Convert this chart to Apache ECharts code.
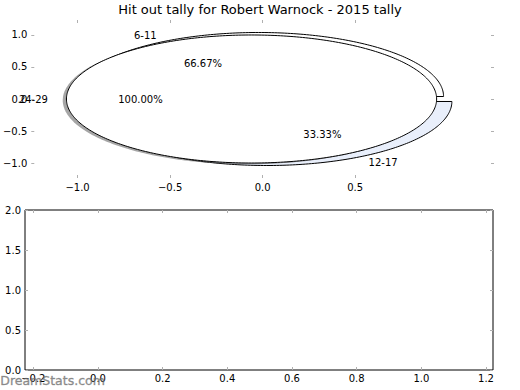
<!DOCTYPE html>
<html><head><meta charset="utf-8">
<script src="https://cdn.jsdelivr.net/npm/echarts@6/dist/echarts.min.js"></script>
<style>html,body{margin:0;padding:0;background:#fff}#c{width:520px;height:390px}</style>
</head><body><div id="c"></div>
<script>
const titleText = 'Hit out tally for Robert Warnock - 2015 tally';
const pie1Labels = ['6-11', '12-17'];
const pie1Values = [2, 1];
const pie2Labels = ['24-29'];
const pie2Values = [1];
const topXTicks = [-1.0, -0.5, 0.0, 0.5];
const topYTicks = [-1.0, -0.5, 0.0, 0.5, 1.0];
const botXTicks = [-0.2, 0.0, 0.2, 0.4, 0.6, 0.8, 1.0, 1.2];
const botYTicks = [0.0, 0.5, 1.0, 1.5, 2.0];
const watermarkText = 'DreamStats.com';

const FONT = 'DejaVu Sans';
const EXPLODE1 = 0.045;
const EXPLODE2 = 0.06;
function buildWedges(labels, values, colors, explode) {
  const total = values.reduce((a, b) => a + b, 0);
  let a = 0; const out = [];
  values.forEach((v, i) => {
    const t1 = a, t2 = a + 360 * v / total; a = t2;
    const mid = (t1 + t2) / 2 * Math.PI / 180;
    out.push({ label: labels[i], pct: (100 * v / total).toFixed(2) + '%', t1, t2, mid,
      cx: explode * Math.cos(mid), cy: explode * Math.sin(mid), color: colors[i % colors.length] });
  });
  return out;
}
const pie1 = buildWedges(pie1Labels, pie1Values, ['#ffffff', '#e9effb'], EXPLODE1);
const pie2 = buildWedges(pie2Labels, pie2Values, ['#ffffff'], EXPLODE2);
// draw order: pie1 wedges, pie2 shadow, pie2 wedge
const drawItems = [];
pie1.forEach(w => drawItems.push({ w, shadow: false }));
pie2.forEach(w => { drawItems.push({ w, shadow: true }); drawItems.push({ w, shadow: false }); });
const allWedges = pie1.concat(pie2);

function wedgePoints(w, api, ox, oy) {
  const pts = [];
  const full = Math.abs(w.t2 - w.t1 - 360) < 1e-9;
  if (!full) pts.push(api.coord([w.cx + ox, w.cy + oy]));
  const n = Math.max(8, Math.ceil(w.t2 - w.t1));
  for (let k = 0; k <= n; k++) {
    const t = (w.t1 + (w.t2 - w.t1) * k / n) * Math.PI / 180;
    pts.push(api.coord([w.cx + ox + Math.cos(t), w.cy + oy + Math.sin(t)]));
  }
  return pts;
}

const fmt = v => (v < 0 ? '\u2212' : '') + Math.abs(v).toFixed(1);
const tickStyle = { show: true, inside: true, length: 3, lineStyle: { color: '#b0b0b0', width: 1 } };
const lblStyle = { color: '#000', fontSize: 10, fontFamily: FONT, formatter: fmt };

function mkAxis(grid, pos, min, max, ticks, showLabel, margin) {
  return {
    type: 'value', gridIndex: grid, position: pos, min, max,
    axisLine: { show: false, onZero: false },
    splitLine: { show: false },
    axisTick: Object.assign({ customValues: ticks }, tickStyle),
    axisLabel: Object.assign({ show: showLabel, customValues: ticks, margin: margin }, lblStyle)
  };
}

const chart = echarts.init(document.getElementById('c'), null, { renderer: 'svg' });
chart.setOption({
  animation: false,
  backgroundColor: '#fff',
  title: { text: titleText, left: 'center', top: 3, padding: 0, textStyle: { fontFamily: FONT, fontSize: 13, fontWeight: 'normal', color: '#000' } },
  grid: [
    { left: 26, top: 20, width: 468, height: 158, show: false },
    { left: 25, top: 210, width: 468, height: 160, show: true, borderColor: '#000', borderWidth: 1, backgroundColor: 'transparent' }
  ],
  xAxis: [
    mkAxis(0, 'bottom', -1.25, 1.25, topXTicks, true, 4),
    mkAxis(0, 'top', -1.25, 1.25, topXTicks, false, 4),
    mkAxis(1, 'bottom', -0.2257, 1.2216, botXTicks, true, 3),
    mkAxis(1, 'top', -0.2257, 1.2216, botXTicks, false, 3)
  ],
  yAxis: [
    mkAxis(0, 'left', -1.234, 1.234, topYTicks, true, 4),
    mkAxis(0, 'right', -1.234, 1.234, topYTicks, false, 4),
    mkAxis(1, 'left', 0, 2, botYTicks, true, 4),
    mkAxis(1, 'right', 0, 2, botYTicks, false, 4)
  ],
  graphic: [{
    type: 'text', left: 0, top: 374, z: 100,
    style: { text: watermarkText, fill: 'rgba(110,110,110,0.75)', font: '12.5px "DejaVu Sans"', stroke: 'rgba(110,110,110,0.5)', lineWidth: 0.5 }
  }],
  series: [
    {
      type: 'custom', xAxisIndex: 0, yAxisIndex: 0, clip: false, z: 2,
      data: drawItems.map((d, i) => [i]),
      renderItem: (params, api) => {
        const d = drawItems[params.dataIndex];
        if (d.shadow) {
          return { type: 'polygon', shape: { points: wedgePoints(d.w, api, -0.02, -0.02) },
            style: { fill: 'rgba(77,77,77,0.5)', stroke: null } };
        }
        return { type: 'polygon', shape: { points: wedgePoints(d.w, api, 0, 0) },
          style: { fill: d.w.color, stroke: '#000', lineWidth: 1 } };
      }
    },
    {
      type: 'custom', xAxisIndex: 0, yAxisIndex: 0, clip: false, z: 5,
      data: allWedges.map((w, i) => [i]),
      renderItem: (params, api) => {
        const w = allWedges[params.dataIndex];
        const c = Math.cos(w.mid), s = Math.sin(w.mid);
        const lp = api.coord([w.cx + 1.1 * c, w.cy + 1.1 * s]);
        const pp = api.coord([w.cx + 0.6 * c, w.cy + 0.6 * s]);
        const font = '10px "DejaVu Sans"';
        return { type: 'group', children: [
          { type: 'text', x: lp[0], y: lp[1], style: { text: w.label, font, fill: '#000', align: c < 0 ? 'right' : 'left', verticalAlign: 'middle' } },
          { type: 'text', x: pp[0], y: pp[1], style: { text: w.pct, font, fill: '#000', align: 'center', verticalAlign: 'middle' } }
        ] };
      }
    }
  ]
});
</script>
</body></html>
